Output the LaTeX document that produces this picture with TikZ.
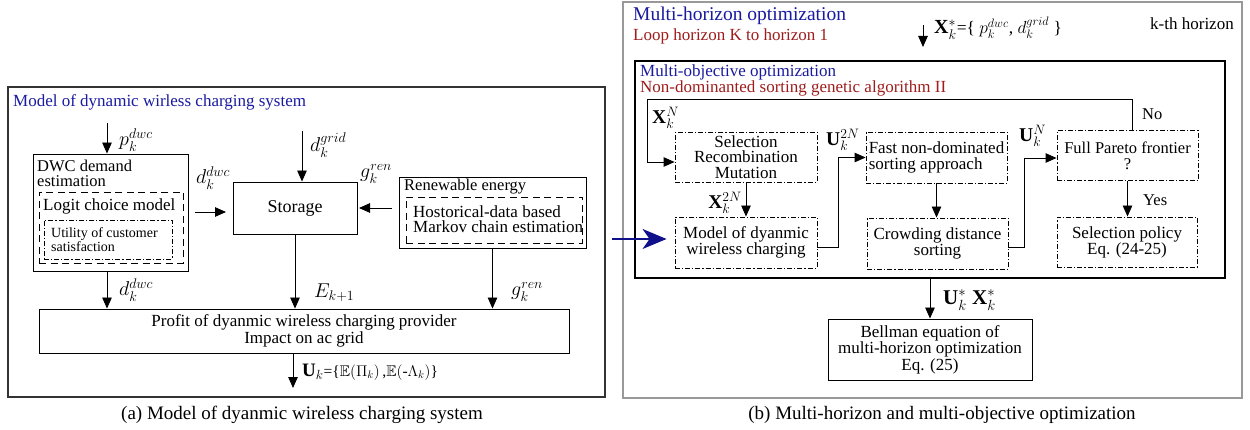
\RequirePackage{fix-cm}
\documentclass[tikz,border=0pt]{standalone}
\usepackage{amsmath,amssymb}
\usepackage{fontspec}
\setmainfont{Liberation Serif}
\usetikzlibrary{arrows.meta}
\newcommand\fsz[2]{\fontsize{#1}{#2}\selectfont}
\definecolor{tblue}{HTML}{1A1AA0}
\definecolor{tred}{HTML}{9E1C1C}
\definecolor{navyarr}{HTML}{10108A}
\begin{document}
\begin{tikzpicture}[x=1pt,y=-1pt,
  box/.style={draw, line width=0.9pt, inner sep=0pt, align=center},
  dbox/.style={draw, line width=0.9pt, dash pattern=on 7pt off 4.5pt, inner sep=0pt},
  ddbox/.style={draw, line width=0.9pt, dash pattern=on 5pt off 2pt on 1.2pt off 2pt, inner sep=0pt, align=center, font=\fsz{17}{15.5}},
  arr/.style={line width=0.9pt, -{Triangle[length=11pt,width=9.5pt]}},
  bluearr/.style={draw=navyarr, line width=1.6pt, -{Stealth[length=24pt,width=20pt,inset=7pt]}},
  lab/.style={inner sep=0pt, anchor=west},
  mlab/.style={inner sep=0pt, anchor=west, font=\fsz{20}{20}},
  txt/.style={inner sep=0pt, anchor=base west},
]
\useasboundingbox (0,0) rectangle (1250,430);

% ---------------- left panel ----------------
\node[draw=black!80, line width=1.2pt, minimum width=597, minimum height=310, inner sep=0pt] (lframe) at (306.5,242) {};
\node[txt, text=tblue, font=\fsz{17}{17}] (ttla) at (13,107) {Model of dynamic wirless charging system};

\node[box, minimum width=155, minimum height=117] (dwc) at (110.5,212.5) {};
\node[txt, font=\fsz{16.5}{16.5}] (dwct1) at (37,172) {DWC demand};
\node[txt, font=\fsz{16.5}{16.5}] (dwct2) at (37,187) {estimation};
\node[dbox, minimum width=144, minimum height=71] (logit) at (111,227.5) {};
\node[txt, font=\fsz{17}{17}] (logitt) at (43,211) {Logit choice model};
\node[ddbox, minimum width=128, minimum height=39] (util) at (108,239.5) {};
\node[txt, font=\fsz{14}{14}] (utilt1) at (51,238) {Utility of customer};
\node[txt, font=\fsz{14}{14}] (utilt2) at (51,252) {satisfaction};

\node[box, minimum width=124, minimum height=52, font=\fsz{18}{18}] (stor) at (295,208) {Storage};

\node[box, minimum width=187, minimum height=71] (ren) at (492.5,212.5) {};
\node[txt, font=\fsz{16.5}{16.5}] (rent) at (404,191) {Renewable energy};
\node[dbox, minimum width=176, minimum height=46] (hist) at (494,220) {};
\node[txt, font=\fsz{17}{17}] (histt1) at (413,218) {Hostorical-data based};
\node[txt, font=\fsz{17}{17}] (histt2) at (413,233) {Markov chain estimation};

\node[box, minimum width=530, minimum height=44, font=\fsz{17}{17}] (prof) at (304,331) {Profit of dyanmic wireless charging provider\\Impact on ac grid};

\coordinate (pin) at (107,123);
\draw[arr] (pin) -- (pin |- dwc.north);
\node[mlab] (plab) at (119,140) {$p_k^{dwc}$};

\coordinate (gin) at (302,131);
\draw[arr] (gin) -- (gin |- stor.north);
\node[mlab] (dglab) at (310,145) {$d_k^{grid}$};

\coordinate (dws) at (195,212);
\coordinate (dwe) at (226,212);
\draw[arr] (dws) -- (dwe);
\node[mlab] (dwlab) at (196,178) {$d_k^{dwc}$};

\coordinate (grs) at (392,208);
\coordinate (gre) at (359,208);
\draw[arr] (grs) -- (gre);
\node[mlab] (grlab) at (360,174) {$g_k^{ren}$};

\draw[arr] (pin |- dwc.south) -- (pin |- prof.north);
\node[mlab] (dw2lab) at (119,290) {$d_k^{dwc}$};
\draw[arr] (stor.south) -- (stor.south |- prof.north);
\node[mlab] (elab) at (314,293) {$E_{k+1}$};
\draw[arr] (ren.south) -- (ren.south |- prof.north);
\node[mlab] (gr2lab) at (511,292) {$g_k^{ren}$};

\coordinate (uend) at (293,388);
\draw[arr] (prof.south -| uend) -- (uend);
\node[lab] (ulab) at (302,372) {\fsz{19}{19}$\mathbf{U}_k$\fsz{15.5}{15.5}=\{$\mathbb{E}(\Pi_k)$\,,$\mathbb{E}($-$\Lambda_k)$\}};

\node[font=\fsz{19}{19}] (capa) at (302,415) {(a) Model of dyanmic wireless charging system};

% ---------------- right panel ----------------
\node[draw=black!40, line width=1.5pt, minimum width=619, minimum height=396, inner sep=0pt] (rframe) at (932.5,200) {};
\node[txt, text=tblue, font=\fsz{19.5}{19.5}] (ttlb) at (633,21) {Multi-horizon optimization};
\node[txt, text=tred, font=\fsz{17}{17}] (loopt) at (633,41) {Loop horizon K to horizon 1};

\coordinate (xs) at (923,25);
\coordinate (xe) at (923,47);
\draw[arr] (xs) -- (xe);
\node[lab] (xslab) at (934,28) {\fsz{20}{20}$\mathbf{X}_k^{*}$\fsz{17.5}{17.5}=\{ $p_k^{dwc}$, $d_k^{grid}$ \}};
\node[txt, font=\fsz{17}{17}] (kth) at (1150,30) {k-th horizon};

\node[draw, line width=1.6pt, minimum width=590, minimum height=217, inner sep=0pt] (mo) at (930,169.5) {};
\node[txt, text=tblue, font=\fsz{17}{17}] (mot) at (640,77) {Multi-objective optimization};
\node[txt, text=tred, font=\fsz{17}{17}] (nsgat) at (640,93) {Non-dominanted sorting genetic algorithm II};

\node[ddbox, minimum width=142, minimum height=50] (sel) at (746,157) {Selection\\Recombination\\Mutation};
\node[ddbox, minimum width=142, minimum height=51] (mdl) at (746,242.5) {Model of dyanmic\\wireless charging};
\node[ddbox, minimum width=141, minimum height=51, align=left, font=\fsz{17}{16}] (fast) at (936.5,157.5) {Fast non-dominated\\sorting approach};
\node[ddbox, minimum width=141, minimum height=51] (crowd) at (937.5,243.5) {Crowding distance\\sorting};
\node[ddbox, minimum width=141, minimum height=50, font=\fsz{16.5}{16}] (par) at (1127.5,155.5) {Full Pareto frontier\\?};
\node[ddbox, minimum width=140, minimum height=50, font=\fsz{17}{16}] (pol) at (1127,242) {Selection policy\\Eq. (24-25)};
\node[box, minimum width=204, minimum height=61, font=\fsz{17}{15}] (bell) at (930,349.5) {Bellman equation of\\multi-horizon optimization\\Eq. (25)};

\coordinate (lpb) at (647,99);
\draw[arr] ([xshift=4.5pt]par.north) |- (lpb) |- ([yshift=-5pt]sel.west);
\node[mlab, font=\fsz{19.5}{19.5}] (xnlab) at (652,118) {$\mathbf{X}_k^{N}$};
\node[txt, font=\fsz{16.5}{16.5}] (nolab) at (1142,120) {No};

\draw[arr] (sel.south) -- (mdl.north);
\node[mlab, anchor=east, font=\fsz{19.5}{19.5}] (x2nlab) at (742,203) {$\mathbf{X}_k^{2N}$};

\draw[arr] ([yshift=-4.5pt]mdl.east) -- ++(21,0) |- (fast.west);
\node[mlab, font=\fsz{19.5}{19.5}] (u2nlab) at (826,140) {$\mathbf{U}_k^{2N}$};

\draw[arr] (fast.south) -- (fast.south |- crowd.north);

\draw[arr] ([yshift=-3.5pt]crowd.east) -- ++(16,0) |- ([yshift=-2.5pt]par.west);
\node[mlab, font=\fsz{19.5}{19.5}] (unlab) at (1019,136) {$\mathbf{U}_k^{N}$};

\draw[arr] (par.south) -- (par.south |- pol.north);
\node[txt, font=\fsz{16.5}{16.5}] (yeslab) at (1143,206) {Yes};

\coordinate (bs) at (612,239);
\draw[bluearr, shorten >=8pt] (bs) -- (bs -| mdl.west);

\draw[arr] (mo.south) -- (bell.north);
\node[mlab, font=\fsz{21}{21}] (uxlab) at (943,300) {$\mathbf{U}_k^{*}$ $\mathbf{X}_k^{*}$};

\node[font=\fsz{19}{19}] (capb) at (942,415) {(b) Multi-horizon and multi-objective optimization};
\end{tikzpicture}
\end{document}
